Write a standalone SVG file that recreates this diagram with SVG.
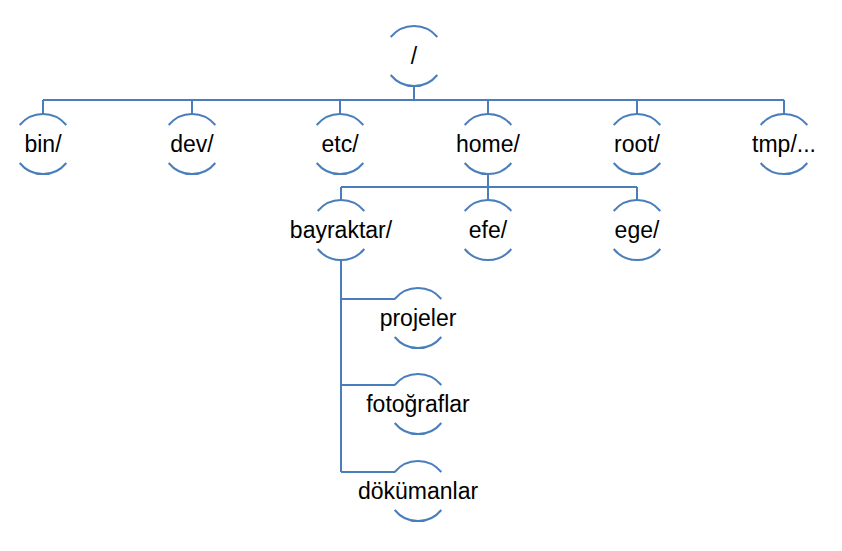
<svg xmlns="http://www.w3.org/2000/svg" xmlns:xlink="http://www.w3.org/1999/xlink" width="842" height="551" viewBox="0 0 842 551">
<style>
.arc{fill:none;stroke:#4A7EBB;stroke-width:2}
.con{fill:none;stroke:#4A7EBB;stroke-width:2}
text{font-family:"Liberation Sans",Arial,sans-serif;font-size:23px;fill:#000;text-anchor:middle}
</style>
<defs>
<g id="node">
<path class="arc" d="M-23.3 -19 A30 30 0 0 1 23.3 -19"/>
<path class="arc" d="M-23.3 19 A30 30 0 0 0 23.3 19"/>
</g>
</defs>
<rect width="842" height="551" fill="#fff"/>
<g id="connectors">
<path class="con" d="M414 86V100M43 100H784M43 100V114M192 100V114M340 100V114M488 100V114M637 100V114M784 100V114"/>
<path class="con" d="M488 174V187M341 187H637M341 187V200M488 187V200M637 187V200"/>
<path class="con" d="M341 260V472M341 299H395M341 385H395M341 472H395"/>
</g>
<g id="n-root"><use xlink:href="#node" transform="translate(414 56)"/><text x="414" y="64">/</text></g>
<g id="n-bin"><use xlink:href="#node" transform="translate(43 144)"/><text x="43" y="152">bin/</text></g>
<g id="n-dev"><use xlink:href="#node" transform="translate(192 144)"/><text x="192" y="152">dev/</text></g>
<g id="n-etc"><use xlink:href="#node" transform="translate(340 144)"/><text x="340" y="152">etc/</text></g>
<g id="n-home"><use xlink:href="#node" transform="translate(488 144)"/><text x="488" y="152">home/</text></g>
<g id="n-root2"><use xlink:href="#node" transform="translate(637 144)"/><text x="637" y="152">root/</text></g>
<g id="n-tmp"><use xlink:href="#node" transform="translate(784 144)"/><text x="784" y="152">tmp/...</text></g>
<g id="n-bayraktar"><use xlink:href="#node" transform="translate(341 230)"/><text x="341" y="238">bayraktar/</text></g>
<g id="n-efe"><use xlink:href="#node" transform="translate(488 230)"/><text x="488" y="238">efe/</text></g>
<g id="n-ege"><use xlink:href="#node" transform="translate(637 230)"/><text x="637" y="238">ege/</text></g>
<g id="n-projeler"><use xlink:href="#node" transform="translate(418 318)"/><text x="418" y="326">projeler</text></g>
<g id="n-fotograflar"><use xlink:href="#node" transform="translate(418 404)"/><text x="418" y="412">fotoğraflar</text></g>
<g id="n-dokumanlar"><use xlink:href="#node" transform="translate(418 491)"/><text x="418" y="499">dökümanlar</text></g>
</svg>
